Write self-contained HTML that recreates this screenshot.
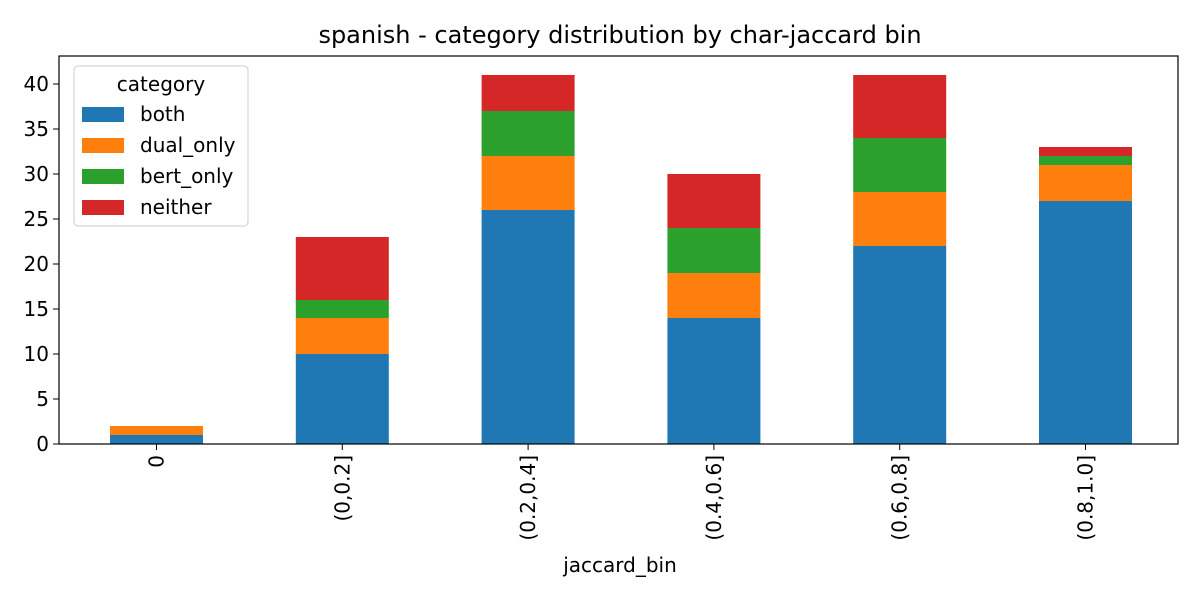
<!DOCTYPE html>
<html><head><meta charset="utf-8"><style>
body{margin:0;background:#fff;}
svg text{font-family:"DejaVu Sans","Liberation Sans",sans-serif;fill:#000;}
</style></head><body>
<svg id="chart" width="1200" height="600" xmlns="http://www.w3.org/2000/svg">
<text x="620" y="43" font-size="24" text-anchor="middle">spanish - category distribution by char-jaccard bin</text>
<g id="bars"></g>
<g id="axes"></g>
<text x="620" y="572" font-size="20" text-anchor="middle">jaccard_bin</text>
<g>
<rect x="74" y="66" width="174" height="160" rx="4" fill="#fff" stroke="#ccc"/>
<text x="161" y="91" font-size="20" text-anchor="middle">category</text>
<g id="legend-items"></g>
</g>
</svg>
<script>
const categories=["0","(0,0.2]","(0.2,0.4]","(0.4,0.6]","(0.6,0.8]","(0.8,1.0]"];
const seriesNames=["both","dual_only","bert_only","neither"];
const both=[1,10,26,14,22,27];
const dualOnly=[1,4,6,5,6,4];
const bertOnly=[0,2,5,5,6,1];
const neither=[0,7,4,6,7,1];
const yTicks=[0,5,10,15,20,25,30,35,40];
const series=[both,dualOnly,bertOnly,neither];
const colors=["#1f77b4","#ff7f0e","#2ca02c","#d62728"];
const L=59,R=1178,T=56,B=444,yMax=43.11;
const ns="http://www.w3.org/2000/svg";
const step=185.8;
const xc=i=>156.5+step*i;
const y=v=>B-(B-T)*v/yMax;
const bw=93;
const gb=document.getElementById('bars');
function mk(t,a,p){const e=document.createElementNS(ns,t);for(const k in a)e.setAttribute(k,a[k]);p.appendChild(e);return e;}
categories.forEach((c,i)=>{let base=0;series.forEach((s,j)=>{const v=s[i];
const r=mk('rect',{x:xc(i)-bw/2,y:y(base+v),width:bw,height:y(base)-y(base+v),fill:colors[j]},gb);


base+=v;});});
const ga=document.getElementById('axes');
const fr=mk('rect',{x:L,y:T,width:R-L,height:B-T,fill:'none',stroke:'#000','stroke-width':1.2},ga);


yTicks.forEach(t=>{mk('line',{x1:L-6,x2:L,y1:y(t),y2:y(t),stroke:'#000'},ga);
const tx=mk('text',{x:L-10,y:y(t)+7,'font-size':20,'text-anchor':'end'},ga);tx.textContent=t;

});
categories.forEach((c,i)=>{mk('line',{x1:xc(i),x2:xc(i),y1:B,y2:B+6,stroke:'#000'},ga);
const tx=mk('text',{x:0,y:0,'font-size':20,'text-anchor':'end',transform:`translate(${xc(i)+7},${B+11}) rotate(-90)`},ga);tx.textContent=c;

});
const gl=document.getElementById('legend-items');
seriesNames.forEach((n,j)=>{const yy=114+j*31;
const r=mk('rect',{x:82,y:yy-7,width:42,height:15,fill:colors[j]},gl);


const t=mk('text',{x:140,y:yy+7,'font-size':20},gl);t.textContent=n;

});
</script>
</body></html>
